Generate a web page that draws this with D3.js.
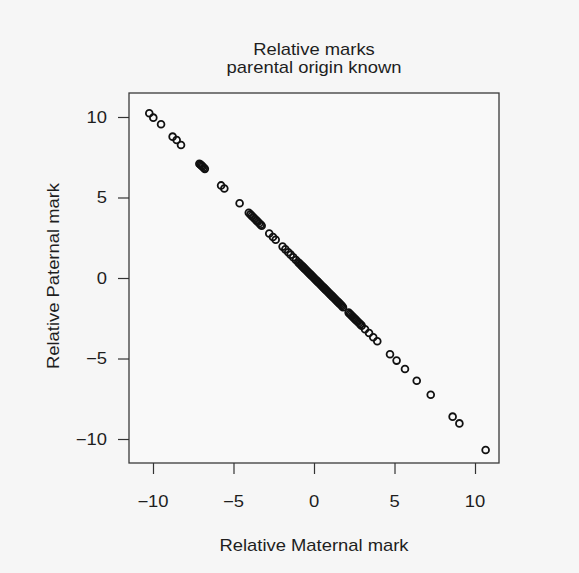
<!DOCTYPE html>
<html>
<head>
<meta charset="utf-8">
<script src="https://cdn.jsdelivr.net/npm/d3@7"></script>
<style>
  html, body { margin: 0; padding: 0; background: #f6f6f6; }
  svg { display: block; }
  text { font-family: "Liberation Sans", Arial, Helvetica, sans-serif; fill: #1e1e1e; }
</style>
</head>
<body>
<svg id="chart" width="579" height="573"></svg>
<script>
// Relative maternal vs paternal marks for families with known parental origin
const maternal = [
  -10.23, -9.98, -9.50, -8.78, -8.53, -8.26,
  -7.12, -7.05, -6.98, -6.92, -6.85, -6.78, -5.77, -5.57, -4.62,
  -4.05, -3.95, -3.86, -3.77, -3.68, -3.58, -3.49, -3.40, -3.31, -3.25,
  -2.78, -2.55, -2.38, -1.95, -1.78, -1.60, -1.45, -1.29, -1.12, -0.98,
  -0.92, -0.85, -0.78, -0.72, -0.66, -0.60, -0.54, -0.48, -0.42, -0.36, -0.30,
  -0.24, -0.18, -0.12, -0.06, 0.00, 0.06, 0.12, 0.18, 0.24, 0.30, 0.36, 0.42,
  0.48, 0.54, 0.60, 0.66, 0.72, 0.78, 0.84, 0.90, 0.96, 1.02, 1.08, 1.14,
  1.20, 1.26, 1.32, 1.38, 1.44, 1.50, 1.56, 1.62, 1.68, 1.74, 1.80,
  2.15, 2.22, 2.29, 2.36, 2.43, 2.50, 2.57, 2.64, 2.72, 2.80, 2.88, 2.96,
  3.17, 3.42, 3.68, 3.93, 4.72, 5.13, 5.65, 6.38, 7.25, 8.61, 9.03, 10.66
];
const paternal = [
  10.23, 9.96, 9.55, 8.78, 8.57, 8.26,
  7.10, 7.04, 6.98, 6.92, 6.85, 6.78, 5.75, 5.56, 4.64,
  4.05, 3.95, 3.86, 3.77, 3.68, 3.58, 3.49, 3.40, 3.31, 3.25,
  2.76, 2.55, 2.38, 1.95, 1.78, 1.60, 1.45, 1.29, 1.12, 0.98,
  0.92, 0.85, 0.78, 0.72, 0.66, 0.60, 0.54, 0.48, 0.42, 0.36, 0.30,
  0.24, 0.18, 0.12, 0.06, 0.00, -0.06, -0.12, -0.18, -0.24, -0.30, -0.36, -0.42,
  -0.48, -0.54, -0.60, -0.66, -0.72, -0.78, -0.84, -0.90, -0.96, -1.02, -1.08, -1.14,
  -1.20, -1.26, -1.32, -1.38, -1.44, -1.50, -1.56, -1.62, -1.68, -1.74, -1.82,
  -2.15, -2.22, -2.29, -2.36, -2.43, -2.50, -2.57, -2.64, -2.72, -2.80, -2.88, -2.96,
  -3.18, -3.42, -3.68, -3.93, -4.74, -5.13, -5.65, -6.38, -7.25, -8.61, -9.03, -10.68
];
const xTicks = [-10, -5, 0, 5, 10];
const yTicks = [-10, -5, 0, 5, 10];
const titleLines = ["Relative marks", "parental origin known"];
const xTitle = "Relative Maternal mark";
const yTitle = "Relative Paternal mark";

const svg = d3.select("#chart");
const box = { left: 129, right: 499, top: 93, bottom: 463 };
const lim = 11.49;
const stretch = 1.15;   // wide sans glyphs
const fontPx = 16;

const x = d3.scaleLinear().domain([-lim, lim]).range([box.left, box.right]);
const y = d3.scaleLinear().domain([-lim, lim]).range([box.bottom, box.top]);

const fmt = d => (d < 0 ? "\u2212" + Math.abs(d) : String(d));

// plot frame
svg.append("rect")
  .attr("x", box.left).attr("y", box.top)
  .attr("width", box.right - box.left).attr("height", box.bottom - box.top)
  .attr("fill", "#f9f9f9").attr("stroke", "#3a3a3a").attr("stroke-width", 1.3);

// axes: ticks and labels only, the frame carries the axis lines
const xAxis = svg.append("g")
  .attr("transform", `translate(0,${box.bottom})`)
  .call(d3.axisBottom(x).tickValues(xTicks).tickSize(11).tickFormat(""));
const yAxis = svg.append("g")
  .attr("transform", `translate(${box.left},0)`)
  .call(d3.axisLeft(y).tickValues(yTicks).tickSize(11).tickFormat(""));
[xAxis, yAxis].forEach(g => {
  g.select(".domain").remove();
  g.selectAll(".tick line").attr("stroke", "#333").attr("stroke-width", 1.2);
});

// tick labels
svg.append("g").selectAll("text").data(xTicks).join("text")
  .attr("transform", d => `translate(${x(d)},507) scale(${stretch},1)`)
  .attr("text-anchor", "middle")
  .style("font-size", fontPx + "px")
  .text(fmt);
svg.append("g").selectAll("text").data(yTicks).join("text")
  .attr("transform", d => `translate(107,${y(d)}) scale(${stretch},1)`)
  .attr("text-anchor", "end")
  .attr("dy", "0.36em")
  .style("font-size", fontPx + "px")
  .text(fmt);

// points
const pts = maternal.map((m, i) => ({ m, p: paternal[i] }));
svg.append("g").selectAll("circle").data(pts).join("circle")
  .attr("cx", d => x(d.m))
  .attr("cy", d => y(d.p))
  .attr("r", 3.4)
  .attr("fill", "none")
  .attr("stroke", "#111")
  .attr("stroke-width", 1.8);

// titles
svg.append("g").selectAll("text").data(titleLines).join("text")
  .attr("transform", (d, i) => `translate(314,${55 + i * 18}) scale(${stretch},1)`)
  .attr("text-anchor", "middle")
  .style("font-size", fontPx + "px")
  .text(d => d);
svg.append("text")
  .attr("transform", `translate(314,551) scale(${stretch},1)`)
  .attr("text-anchor", "middle")
  .style("font-size", fontPx + "px")
  .text(xTitle);
svg.append("text")
  .attr("transform", `translate(59,276) rotate(-90) scale(${stretch},1)`)
  .attr("text-anchor", "middle")
  .style("font-size", fontPx + "px")
  .text(yTitle);
</script>
</body>
</html>
